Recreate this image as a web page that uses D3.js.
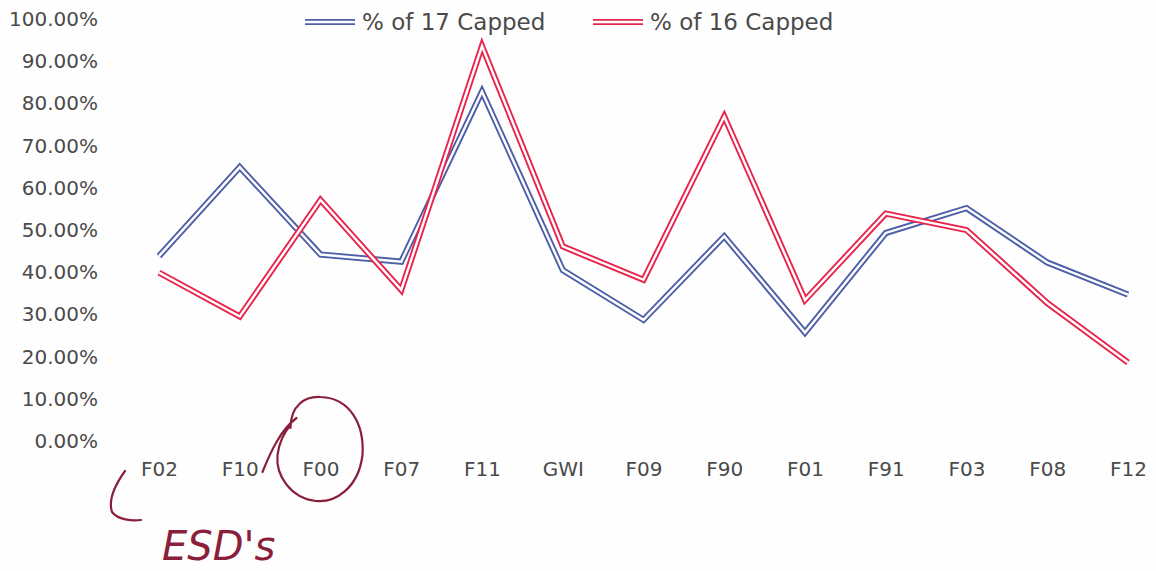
<!DOCTYPE html>
<html>
<head>
<meta charset="utf-8">
<script src="https://cdn.jsdelivr.net/npm/d3@7"></script>
<style>
  html, body { margin: 0; padding: 0; background: #fff; }
  svg { display: block; font-family: "DejaVu Sans", sans-serif; }
</style>
</head>
<body>
<svg id="chart" width="1156" height="571"></svg>
<script>
// ---- data ----
const categories = ["F02", "F10", "F00", "F07", "F11", "GWI", "F09", "F90", "F01", "F91", "F03", "F08", "F12"];
const capped17 = [0.438, 0.649, 0.442, 0.425, 0.828, 0.405, 0.287, 0.485, 0.257, 0.493, 0.552, 0.423, 0.347];
const capped16 = [0.399, 0.295, 0.571, 0.358, 0.936, 0.461, 0.382, 0.769, 0.334, 0.539, 0.500, 0.327, 0.186];
const seriesNames = ["% of 17 Capped", "% of 16 Capped"];
const yTicks = [0, 0.1, 0.2, 0.3, 0.4, 0.5, 0.6, 0.7, 0.8, 0.9, 1.0];
const annotationText = "ESD's";

// ---- layout ----
const W = 1156, H = 571;
const colors = ["#4d5fa8", "#e8244c"];
const inkText = "#4a4a4a";
const annoColor = "#8a1f3c";
const fontStack = "\"DejaVu Sans\", sans-serif";

const svg = d3.select("#chart");
svg.append("rect").attr("width", W).attr("height", H).attr("fill", "#fefefe");

const x = d3.scalePoint().domain(categories).range([159, 1128]);
const y = d3.scaleLinear().domain([0, 1]).range([441, 19]);

// y axis labels
const yAxis = d3.axisLeft(y).tickValues(yTicks).tickFormat(d3.format(".2%")).tickSize(0).tickPadding(0);
const gy = svg.append("g").attr("transform", "translate(98,0)").call(yAxis);
gy.select(".domain").remove();
gy.selectAll("text").attr("fill", inkText).style("font-size", "20px").style("font-family", fontStack);

// x axis labels
const xAxis = d3.axisBottom(x).tickSize(0).tickPadding(0);
const gx = svg.append("g").attr("transform", "translate(0,462)").call(xAxis);
gx.select(".domain").remove();
gx.selectAll("text").attr("fill", inkText).style("font-size", "20px").style("font-family", fontStack);

// double-stroke line helper
const line = d3.line().x((d, i) => x(categories[i])).y(d => y(d));
function doubleLine(sel, d, color) {
  sel.append("path").attr("d", d).attr("fill", "none").attr("stroke", color)
    .attr("stroke-width", 6.2).attr("stroke-linejoin", "miter").attr("stroke-miterlimit", 20);
  sel.append("path").attr("d", d).attr("fill", "none").attr("stroke", "#fff")
    .attr("stroke-width", 2.4).attr("stroke-linejoin", "miter").attr("stroke-miterlimit", 20);
}

const series = [capped17, capped16];
series.forEach((vals, k) => {
  doubleLine(svg.append("g"), line(vals), colors[k]);
});

// legend
const legendX = [305, 593];
seriesNames.forEach((name, k) => {
  const g = svg.append("g").attr("transform", `translate(${legendX[k]},22)`);
  doubleLine(g, "M0,0H50", colors[k]);
  g.append("text").attr("x", 57).attr("y", 0).attr("dy", "0.35em")
    .attr("fill", inkText).style("font-size", "23px").style("font-family", fontStack).text(name);
});

// handwritten annotations
const anno = svg.append("g").attr("fill", "none").attr("stroke", annoColor)
  .attr("stroke-width", 2.2).attr("stroke-linecap", "round");
const f00x = x("F00");
// circle around F00 with a lead-in tail
anno.append("path").attr("d",
  `M${f00x - 58},472 C${f00x - 50},452 ${f00x - 40},430 ${f00x - 24},418 ` +
  `M${f00x - 30},428 C${f00x - 30},405 ${f00x - 15},396 ${f00x},397 ` +
  `C${f00x + 30},398 ${f00x + 44},425 ${f00x + 42},455 ` +
  `C${f00x + 38},488 ${f00x + 15},503 ${f00x - 5},501 ` +
  `C${f00x - 30},498 ${f00x - 45},475 ${f00x - 43},455 ` +
  `C${f00x - 41},440 ${f00x - 36},432 ${f00x - 30},425`);
// bracket at left
anno.append("path").attr("d", `M125,471 C115,485 108,500 112,512 C118,520 132,521 141,520`);
svg.append("text").attr("x", 162).attr("y", 560).attr("fill", annoColor)
  .style("font-size", "40px").style("font-style", "italic").style("font-family", fontStack)
  .text(annotationText);
</script>
</body>
</html>
